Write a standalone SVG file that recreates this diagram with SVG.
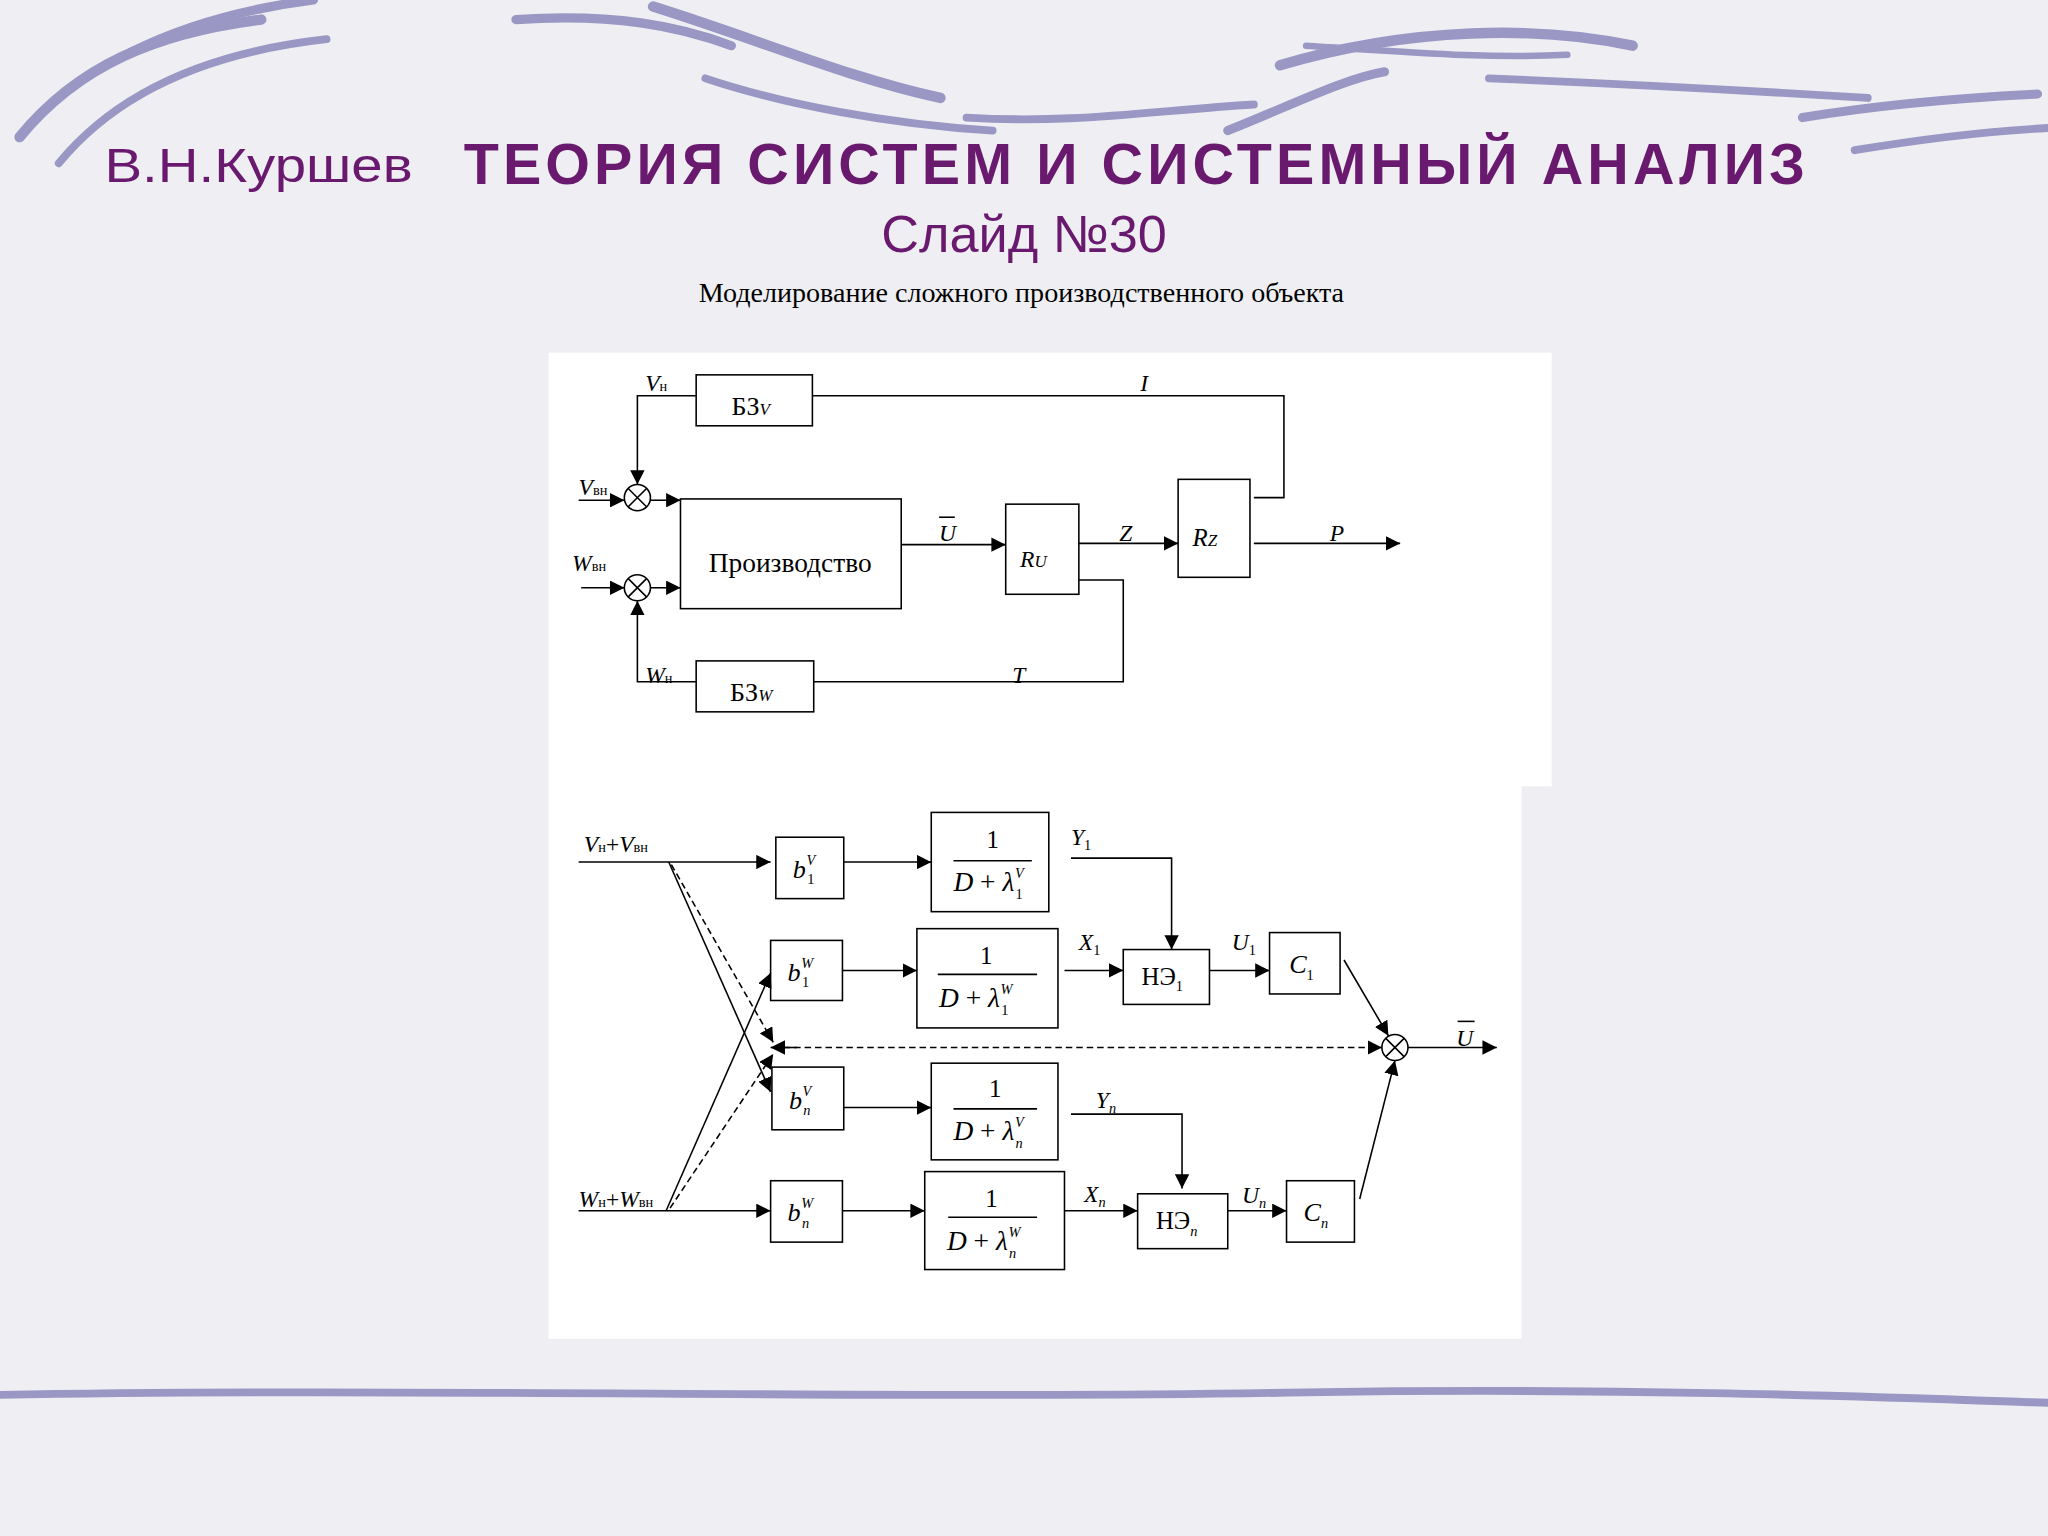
<svg xmlns="http://www.w3.org/2000/svg" width="2048" height="1536" viewBox="0 0 2048 1536">
<defs>
<marker id="ah" viewBox="0 0 10 10" refX="10" refY="5" markerWidth="11" markerHeight="11" markerUnits="userSpaceOnUse" orient="auto"><path d="M0,0 L10,5 L0,10 Z" fill="#000"/></marker>
<style>
.bx{fill:none;stroke:#000;stroke-width:1.2}
.ln{fill:none;stroke:#000;stroke-width:1.2}
.ar{fill:none;stroke:#000;stroke-width:1.2;marker-end:url(#ah)}
.da{stroke-dasharray:5,3}
.t{font-family:"Liberation Serif",serif;fill:#000}
.i{font-style:italic}
.br{fill:none;stroke:#9a97c4;stroke-linecap:round}
</style>
</defs>
<g transform="scale(1.30612)">
<rect width="1568" height="1176" fill="#efeff3"/>
<g id="decor">
<path class="br" stroke-width="8" d="M15,105 C60,50 120,25 200,15"/>
<path class="br" stroke-width="6" d="M45,125 C90,70 160,40 250,30"/>
<path class="br" stroke-width="7" d="M100,40 C150,15 200,5 240,0"/>
<path class="br" stroke-width="7" d="M395,15 C470,10 520,20 560,35"/>
<path class="br" stroke-width="8" d="M500,5 C580,30 650,60 720,75"/>
<path class="br" stroke-width="6" d="M540,60 C600,80 680,95 760,100"/>
<path class="br" stroke-width="6" d="M740,90 C820,95 880,85 960,80"/>
<path class="br" stroke-width="7" d="M940,100 C990,80 1030,60 1060,55"/>
<path class="br" stroke-width="8" d="M980,50 C1080,20 1180,20 1250,35"/>
<path class="br" stroke-width="6" d="M1140,60 C1260,65 1350,70 1430,75"/>
<path class="br" stroke-width="7" d="M1380,90 C1440,80 1500,75 1560,72"/>
<path class="br" stroke-width="6" d="M1420,115 C1480,105 1530,100 1568,98"/>
<path class="br" stroke-width="5" d="M1000,35 C1080,40 1140,45 1200,42"/>
<path class="br" stroke-width="6" d="M0,1068 C300,1062 700,1072 1000,1066 C1250,1062 1450,1070 1568,1074"/>
</g>
<g id="title">
<text x="80" y="139" font-family="Liberation Sans,Arial,sans-serif" font-size="37" fill="#6a1a6e" textLength="236" lengthAdjust="spacingAndGlyphs">В.Н.Куршев</text>
<text x="355" y="141" font-family="Liberation Sans,Arial,sans-serif" font-size="44" font-weight="bold" fill="#6a1a6e" textLength="1027" lengthAdjust="spacing">ТЕОРИЯ СИСТЕМ И СИСТЕМНЫЙ АНАЛИЗ</text>
<text x="784" y="193" text-anchor="middle" font-family="Liberation Sans,Arial,sans-serif" font-size="40" fill="#6a1a6e">Слайд №30</text>
<text x="782" y="231" text-anchor="middle" class="t" font-size="21.5">Моделирование сложного производственного объекта</text>
</g>
<rect x="420" y="270" width="768" height="332" fill="#fff"/>
<rect x="420" y="600" width="745" height="425" fill="#fff"/>

<g id="top-nodes">
<g id="bzv"><rect class="bx" x="533" y="287" width="89" height="39"/><text class="t" x="560" y="318" font-size="20">БЗ<tspan class="i" font-size="13">V</tspan></text></g>
<g id="sum1"><circle class="bx" cx="488" cy="381" r="10"/><path class="ln" d="M481,374 L495,388 M495,374 L481,388"/></g>
<g id="sum2"><circle class="bx" cx="488" cy="450" r="10"/><path class="ln" d="M481,443 L495,457 M495,443 L481,457"/></g>
<g id="prod"><rect class="bx" x="521" y="382" width="169" height="84"/><text class="t" x="605" y="438" font-size="21" text-anchor="middle">Производство</text></g>
<g id="ru"><rect class="bx" x="770" y="386" width="56" height="69"/><text class="t i" x="781" y="434" font-size="18">R<tspan font-size="13">U</tspan></text></g>
<g id="rz"><rect class="bx" x="902" y="367" width="55" height="75"/><text class="t i" x="913" y="418" font-size="19">R<tspan font-size="13">Z</tspan></text></g>
<g id="bzw"><rect class="bx" x="533" y="506" width="90" height="39"/><text class="t" x="559" y="537" font-size="20">БЗ<tspan class="i" font-size="13">W</tspan></text></g>
</g>
<g id="top-connectors">
<path class="ar" d="M533,303 L488,303 L488,371"/>
<path class="ar" d="M443,383 L478,383"/>
<path class="ar" d="M498,383 L521,383"/>
<path class="ar" d="M445,450 L478,450"/>
<path class="ar" d="M498,450 L521,450"/>
<path class="ar" d="M533,522 L488,522 L488,460"/>
<path class="ln" d="M623,522 L860,522 L860,444 L826,444"/>
<path class="ar" d="M690,417 L770,417"/>
<path class="ar" d="M826,416 L902,416"/>
<path class="ar" d="M960,416 L1072,416"/>
<path class="ln" d="M622,303 L983,303 L983,381 L960,381"/>
</g>
<g id="top-labels" class="t i" font-size="18">
<text x="494" y="299">V<tspan font-style="normal" font-size="11">н</tspan></text>
<text x="443" y="379">V<tspan font-style="normal" font-size="11">вн</tspan></text>
<text x="438" y="437">W<tspan font-style="normal" font-size="11">вн</tspan></text>
<text x="494" y="523">W<tspan font-style="normal" font-size="11">н</tspan></text>
<text x="873" y="299">I</text>
<text x="719" y="414">U</text><path class="ln" d="M719,396 L731,396"/>
<text x="857" y="414">Z</text>
<text x="1018" y="414">P</text>
<text x="775" y="523">T</text>
</g>

<g id="bottom-nodes" class="t">
<g id="b1v"><rect class="bx" x="594" y="641" width="52" height="47"/><text class="i" x="607" y="672" font-size="20">b<tspan font-style="normal" font-size="11" dx="1" dy="5">1</tspan><tspan font-size="11" dx="-6" dy="-15">V</tspan></text></g>
<g id="f1v"><rect class="bx" x="713" y="622" width="90" height="76"/><text x="760" y="649" font-size="19" text-anchor="middle">1</text><path class="ln" d="M730,659 L790,659"/><text class="i" x="730" y="682" font-size="21">D<tspan font-style="normal"> + </tspan>λ<tspan font-size="11" dy="6" dx="1" font-style="normal">1</tspan><tspan font-size="11" dy="-16" dx="-6">V</tspan></text></g>
<g id="b1w"><rect class="bx" x="590" y="720" width="55" height="46"/><text class="i" x="603" y="751" font-size="20">b<tspan font-style="normal" font-size="11" dx="1" dy="5">1</tspan><tspan font-size="11" dx="-6" dy="-15">W</tspan></text></g>
<g id="f1w"><rect class="bx" x="702" y="711" width="108" height="76"/><text x="755" y="738" font-size="19" text-anchor="middle">1</text><path class="ln" d="M718,746 L794,746"/><text class="i" x="719" y="771" font-size="21">D<tspan font-style="normal"> + </tspan>λ<tspan font-size="11" dy="6" dx="1" font-style="normal">1</tspan><tspan font-size="11" dy="-16" dx="-6">W</tspan></text></g>
<g id="ne1"><rect class="bx" x="860" y="727" width="66" height="42"/><text x="874" y="754" font-size="19">НЭ<tspan font-size="11" dy="5">1</tspan></text></g>
<g id="c1"><rect class="bx" x="972" y="714" width="54" height="47"/><text class="i" x="987" y="745" font-size="20">C<tspan font-style="normal" font-size="11" dy="5">1</tspan></text></g>
<g id="sum3"><circle class="bx" cx="1068" cy="802" r="10"/><path class="ln" d="M1061,795 L1075,809 M1075,795 L1061,809"/></g>
<g id="bnv"><rect class="bx" x="591" y="817" width="55" height="48"/><text class="i" x="604" y="849" font-size="20">b<tspan font-size="11" dx="1" dy="5">n</tspan><tspan font-size="11" dx="-6" dy="-15">V</tspan></text></g>
<g id="fnv"><rect class="bx" x="713" y="814" width="97" height="74"/><text x="762" y="840" font-size="19" text-anchor="middle">1</text><path class="ln" d="M730,849 L794,849"/><text class="i" x="730" y="873" font-size="21">D<tspan font-style="normal"> + </tspan>λ<tspan font-size="11" dy="6" dx="1">n</tspan><tspan font-size="11" dy="-16" dx="-6">V</tspan></text></g>
<g id="bnw"><rect class="bx" x="590" y="904" width="55" height="47"/><text class="i" x="603" y="935" font-size="20">b<tspan font-size="11" dx="1" dy="5">n</tspan><tspan font-size="11" dx="-6" dy="-15">W</tspan></text></g>
<g id="fnw"><rect class="bx" x="708" y="897" width="107" height="75"/><text x="759" y="924" font-size="19" text-anchor="middle">1</text><path class="ln" d="M726,932 L794,932"/><text class="i" x="725" y="957" font-size="21">D<tspan font-style="normal"> + </tspan>λ<tspan font-size="11" dy="6" dx="1">n</tspan><tspan font-size="11" dy="-16" dx="-6">W</tspan></text></g>
<g id="nen"><rect class="bx" x="871" y="914" width="69" height="42"/><text x="885" y="941" font-size="19">НЭ<tspan class="i" font-size="11" dy="5">n</tspan></text></g>
<g id="cn"><rect class="bx" x="985" y="904" width="52" height="47"/><text class="i" x="998" y="935" font-size="20">C<tspan font-size="11" dy="5">n</tspan></text></g>
</g>
<g id="bottom-connectors">
<path class="ar" d="M443,660 L590,660"/>
<path class="ar" d="M646,660 L713,660"/>
<path class="ar" d="M820,657 L897,657 L897,727"/>
<path class="ar" d="M645,743 L702,743"/>
<path class="ar" d="M815,743 L860,743"/>
<path class="ar" d="M926,743 L972,743"/>
<path class="ar" d="M1029,735 L1063,793"/>
<path class="ar" d="M1078,802 L1146,802"/>
<path class="ar da" d="M1000,802 L1058,802"/>
<path class="ln da" d="M600,802 L1000,802"/>
<path class="ar" d="M610,802 L590,802"/>
<path class="ar" d="M646,848 L713,848"/>
<path class="ar" d="M820,853 L905,853 L905,910"/>
<path class="ar" d="M443,927 L590,927"/>
<path class="ar" d="M645,927 L708,927"/>
<path class="ar" d="M815,927 L871,927"/>
<path class="ar" d="M940,927 L985,927"/>
<path class="ar" d="M1041,918 L1068,812"/>
<path class="ar" d="M512,660 L590,836"/>
<path class="ar da" d="M514,662 L592,798"/>
<path class="ar" d="M510,927 L590,745"/>
<path class="ar da" d="M513,925 L592,807"/>
</g>
<g id="bottom-labels" class="t i" font-size="18">
<text x="447" y="652">V<tspan font-style="normal" font-size="11">н</tspan><tspan font-style="normal">+</tspan>V<tspan font-style="normal" font-size="11">вн</tspan></text>
<text x="443" y="924">W<tspan font-style="normal" font-size="11">н</tspan><tspan font-style="normal">+</tspan>W<tspan font-style="normal" font-size="11">вн</tspan></text>
<text x="820" y="647">Y<tspan font-style="normal" font-size="11" dy="4">1</tspan></text>
<text x="826" y="727">X<tspan font-style="normal" font-size="11" dy="4">1</tspan></text>
<text x="943" y="727">U<tspan font-style="normal" font-size="11" dy="4">1</tspan></text>
<text x="1115" y="801">U</text><path class="ln" d="M1116,782 L1129,782"/>
<text x="839" y="848">Y<tspan font-size="11" dy="4">n</tspan></text>
<text x="830" y="920">X<tspan font-size="11" dy="4">n</tspan></text>
<text x="951" y="921">U<tspan font-size="11" dy="4">n</tspan></text>
</g>
</g>
</svg>
